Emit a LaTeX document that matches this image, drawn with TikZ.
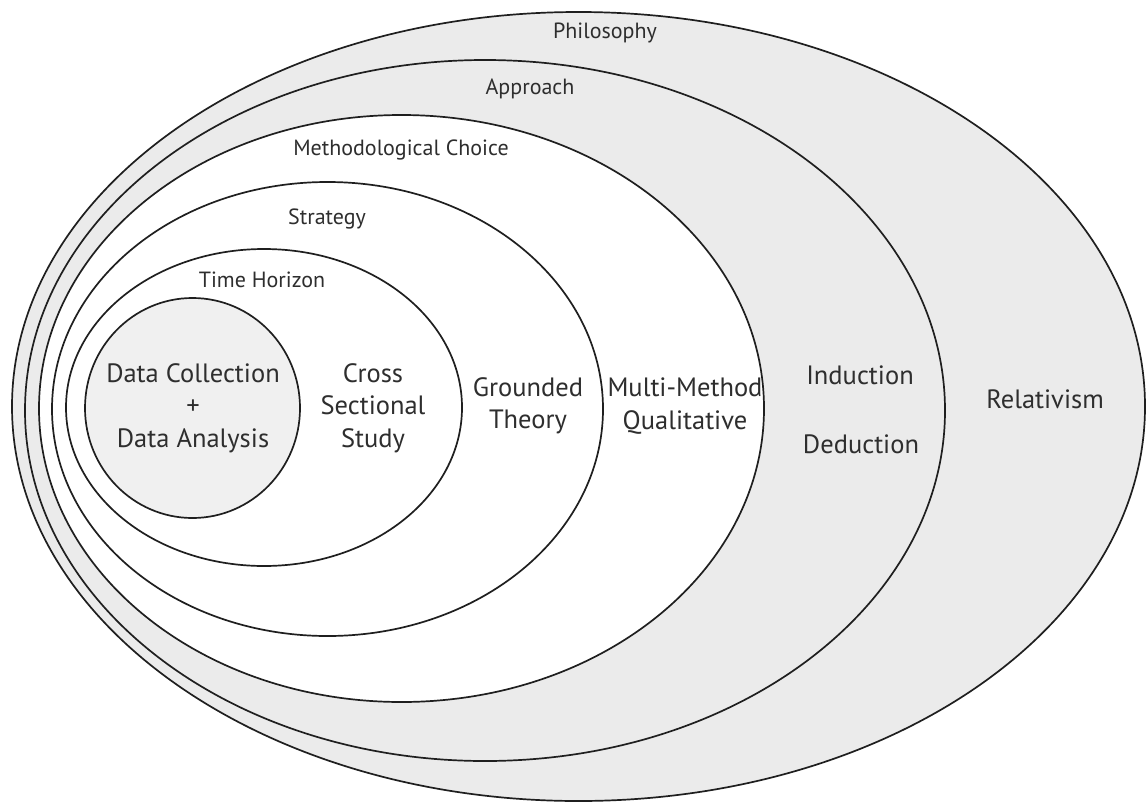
\documentclass[tikz,border=0pt]{standalone}
\usepackage{fontspec}
\setmainfont{PT Sans}
\begin{document}
\begin{tikzpicture}[x=1pt,y=-1pt,
  ring/.style={draw=black!88,line width=1.7pt},
  band/.style={ring,fill=black!8},
  inner/.style={ring,fill=white},
  core/.style={ring,fill=black!6},
  small/.style={text=black!82,font=\fontsize{22}{26}\selectfont,inner sep=0pt},
  big/.style={text=black!82,font=\fontsize{26.5}{32.5}\selectfont,align=center,inner sep=0pt}]
\useasboundingbox (0,0) rectangle (1147,803);
\fill[white] (0,0) rectangle (1147,803);
% nested layers, outermost first
\draw[band]  (578.5,406.5) ellipse [x radius=566.5, y radius=394.5];
\draw[band]  (485,410.5)   ellipse [x radius=460,   y radius=350.5];
\draw[inner] (401.5,408.5) ellipse [x radius=362.5, y radius=293.5];
\draw[inner] (327.5,409)   ellipse [x radius=275.5, y radius=227];
\draw[inner] (264,407.5)   ellipse [x radius=198,   y radius=158.5];
\draw[core]  (192.5,408)   ellipse [x radius=107.5, y radius=110];
% layer titles
\node[small] (philosophy) at (605,33)  {Philosophy};
\node[small] (approach)   at (530,89)  {Approach};
\node[small] (choice)     at (401,150) {Methodological Choice};
\node[small] (strategy)   at (327,219) {Strategy};
\node[small] (horizon)    at (262,280) {Time Horizon};
% layer contents
\node[big] (data)      at (193,408) {Data Collection\\+\\Data Analysis};
\node[big] (cross)     at (373,408) {Cross\\Sectional\\Study};
\node[big] (grounded)  at (528,406) {Grounded\\Theory};
\node[big] (multi)     at (685,406) {Multi-Method\\Qualitative};
\node[big] (induction) at (860,375) {Induction};
\node[big] (deduction) at (861,444) {Deduction};
\node[big] (relativism) at (1045,399) {Relativism};
\end{tikzpicture}
\end{document}
